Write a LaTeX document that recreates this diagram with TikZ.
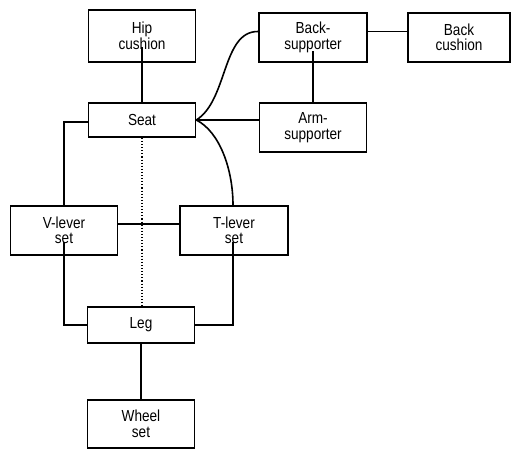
\documentclass[tikz,border=0pt]{standalone}
\usepackage{fontspec}
\setmainfont{Liberation Sans}[FakeStretch=0.85]
\begin{document}
\begin{tikzpicture}[x=1pt,y=-1pt,
  box/.style={draw, line width=1.7pt, rectangle, minimum width=107pt, inner sep=0pt,
    align=center, font=\fontsize{16}{15.5}\selectfont},
  conn/.style={line width=1.6pt},
  dotconn/.style={line width=1.1pt, dotted}]
\useasboundingbox (0,0) rectangle (512,449);
\node[box, minimum height=52pt] (hip) at (142,36) {Hip\\cushion};
\node[box, minimum height=34pt] (seat) at (142,120) {Seat};
\node[box, minimum width=108pt, minimum height=49pt] (back) at (313,37.5) {Back-\\supporter};
\node[box, minimum width=102pt, minimum height=49pt] (bcush) at (459,37.5) {Back\\cushion};
\node[box, minimum height=49pt] (arm) at (313,127.5) {Arm-\\supporter};
\node[box, minimum height=49pt] (vlever) at (64,230.5) {V-lever\\set};
\node[box, minimum width=108pt, minimum height=49pt] (tlever) at (234,230.5) {T-lever\\set};
\node[box, minimum height=36pt] (leg) at (141,325) {Leg};
\node[box, minimum height=48pt] (wheel) at (141,424) {Wheel\\set};

\coordinate (hipin) at ([yshift=-11pt]hip.center);
\coordinate (backin) at ([yshift=-14pt]back.center);
\coordinate (vin) at ([yshift=-12pt]vlever.center);
\coordinate (tin) at ([xshift=-1pt,yshift=-12pt]tlever.center);

\draw[conn] (hipin) -- (hipin |- seat.north);
\draw[conn] ([yshift=-2pt]seat.west) -| (vlever.north);
\draw[dotconn] (seat.south) -- (seat.south |- leg.north);
\draw[conn] (seat.east) .. controls (228,100) and (222,31) .. ([yshift=6pt]back.west);
\draw[conn] (seat.east) -- (seat.east -| arm.west);
\draw[conn] (seat.east) .. controls (220,132) and (233,170) .. (tin |- tlever.north);
\draw[conn] ([yshift=6pt]back.east) -- ([yshift=6pt]bcush.west);
\draw[conn] (backin) -- (backin |- arm.north);
\draw[conn] ([yshift=6.5pt]vlever.east) -- ([yshift=6.5pt]tlever.west);
\draw[conn] (vin) |- (leg.west);
\draw[conn] (tin) |- (leg.east);
\draw[conn] (leg.south) -- (wheel.north);
\end{tikzpicture}
\end{document}
